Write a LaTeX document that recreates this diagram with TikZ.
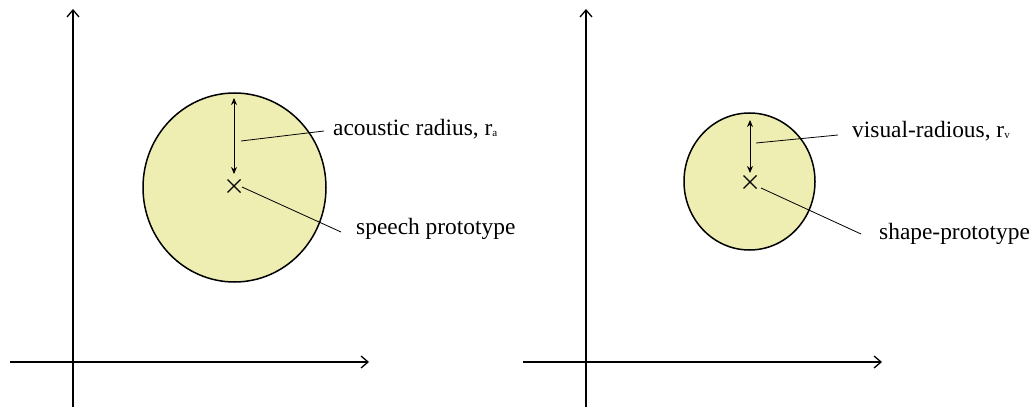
\documentclass[tikz,border=0pt]{standalone}
\usepackage{fontspec}
\setmainfont{Liberation Serif}
\usetikzlibrary{arrows.meta,shapes.geometric}
\definecolor{disc}{RGB}{238,237,178}
\newcommand{\lsub}[1]{{\fontsize{11}{12}\selectfont\raisebox{-1pt}{#1}}}
\begin{document}
\begin{tikzpicture}[x=1pt,y=-1pt,
  axis/.style={line width=1.3pt,-{Straight Barb[length=7pt,width=12pt,line width=1.3pt]}},
  region/.style={draw=black,line width=1.5pt,fill=disc},
  radarrow/.style={line width=0.9pt,{Stealth[length=7pt,width=6pt]}-{Stealth[length=7pt,width=6pt]}},
  leader/.style={line width=0.8pt},
  crossmark/.style={line width=1.4pt},
  lbl/.style={inner sep=0pt,anchor=base west,font=\fontsize{23.4}{27}\selectfont}]
\useasboundingbox (0,0) rectangle (1034,409);
% left panel
\coordinate (ly0) at (73,407); \coordinate (ly1) at (73,9);
\coordinate (lx0) at (10,362); \coordinate (lx1) at (369,362);
\draw[axis] (ly0) -- (ly1);
\draw[axis] (lx0) -- (lx1);
\node[region,ellipse,minimum width=183pt,minimum height=189pt,inner sep=0pt] (lc) at (234.5,187.5) {};
\coordinate (lp) at (234,186);
\draw[crossmark] ([shift={(-6.5,-6.5)}]lp) -- ([shift={(6.5,6.5)}]lp);
\draw[crossmark] ([shift={(-6.5,6.5)}]lp) -- ([shift={(6.5,-6.5)}]lp);
\coordinate (lrt) at (234,98); \coordinate (lrb) at (234,174);
\draw[radarrow] (lrt) -- (lrb);
\coordinate (l1s) at (241,141); \coordinate (l1e) at (324,131);
\draw[leader] (l1s) -- (l1e);
\node[lbl] (la) at (333,136) {acoustic radius, r\lsub{a}};
\coordinate (l2s) at (242,187); \coordinate (l2e) at (341,232);
\draw[leader] (l2s) -- (l2e);
\node[lbl] (lb) at (356,234) {speech prototype};
% right panel
\coordinate (ry0) at (586,407); \coordinate (ry1) at (586,9);
\coordinate (rx0) at (523,362); \coordinate (rx1) at (882,362);
\draw[axis] (ry0) -- (ry1);
\draw[axis] (rx0) -- (rx1);
\node[region,ellipse,minimum width=131pt,minimum height=137pt,inner sep=0pt] (rc) at (749.5,181.5) {};
\coordinate (rp) at (750,182);
\draw[crossmark] ([shift={(-6.5,-6.5)}]rp) -- ([shift={(6.5,6.5)}]rp);
\draw[crossmark] ([shift={(-6.5,6.5)}]rp) -- ([shift={(6.5,-6.5)}]rp);
\coordinate (rrt) at (750,120); \coordinate (rrb) at (750,173);
\draw[radarrow] (rrt) -- (rrb);
\coordinate (r1s) at (756,143); \coordinate (r1e) at (838,135);
\draw[leader] (r1s) -- (r1e);
\node[lbl] (ra) at (852,138) {visual-radious, r\lsub{v}};
\coordinate (r2s) at (761,188); \coordinate (r2e) at (861,234);
\draw[leader] (r2s) -- (r2e);
\node[lbl] (rb) at (879,240) {shape-prototype};
\end{tikzpicture}
\end{document}
